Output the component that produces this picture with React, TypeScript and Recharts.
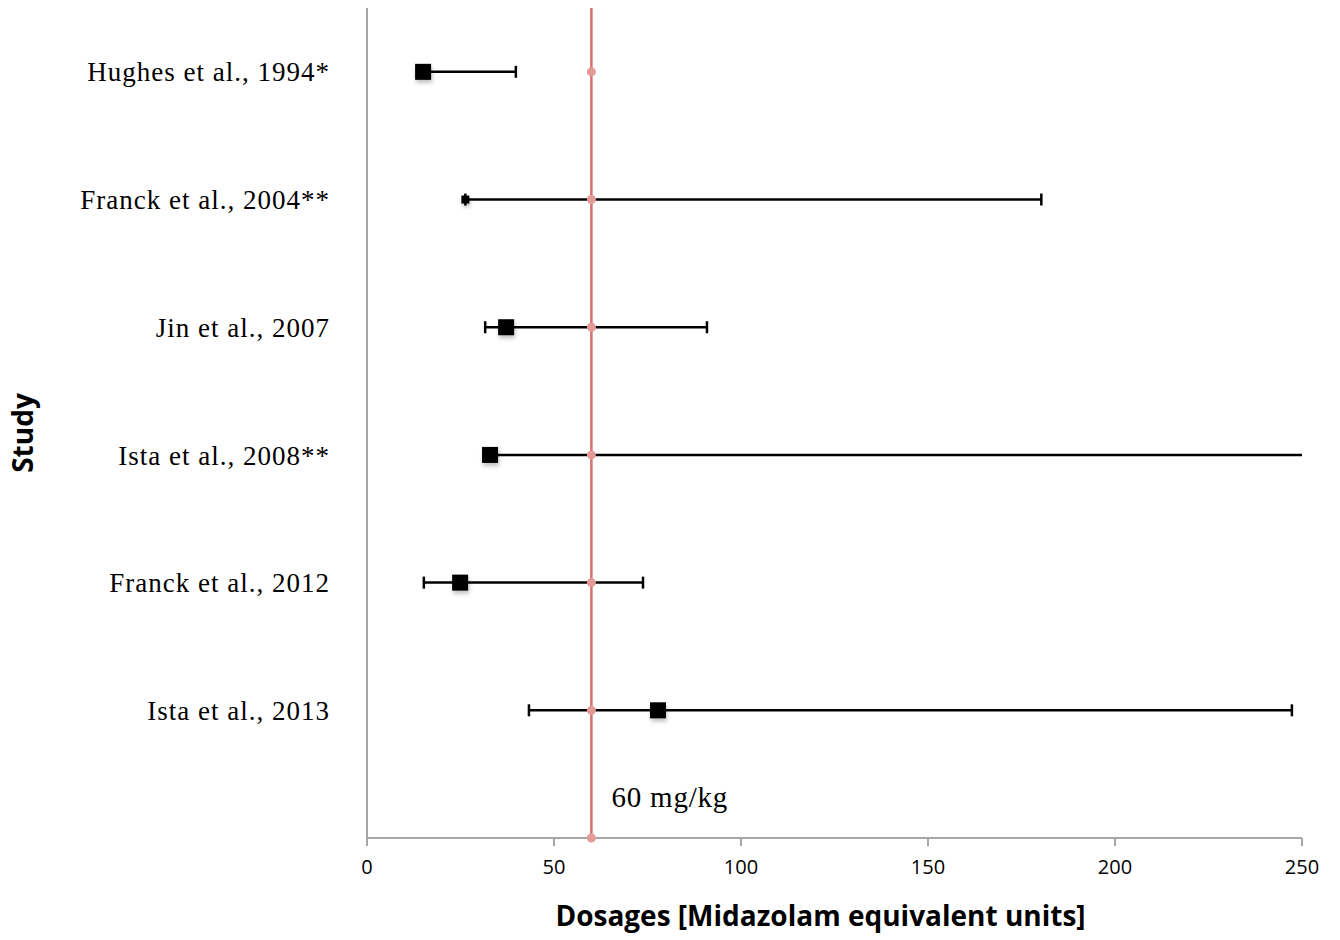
import React from "react";
import {
  ScatterChart,
  Scatter,
  XAxis,
  YAxis,
  ErrorBar,
  ReferenceLine,
} from "recharts";

// studies listed top to bottom
const studies = [
  "Hughes et al., 1994*",
  "Franck et al., 2004**",
  "Jin et al., 2007",
  "Ista et al., 2008**",
  "Franck et al., 2012",
  "Ista et al., 2013",
];
const medians = [15, 26.3, 37.2, 32.9, 24.9, 77.8];
const lows = [15, 26.3, 31.6, 32.9, 15.2, 43.3];
const highs = [39.8, 180.3, 90.9, 300, 73.8, 247.3];
const xTicks = [0, 50, 100, 150, 200, 250];
const xMax = 250;
const threshold = 60;

const rowOf = (i: number) => studies.length - i;

const rows = studies.map((name, i) => ({
  name,
  x: medians[i],
  y: rowOf(i),
  // bars running past the axis end are cut at the edge (no cap)
  err: [medians[i] - lows[i], Math.min(highs[i], xMax) - medians[i]],
  open: highs[i] > xMax,
}));
const closedRows = rows.filter((r) => !r.open);
const openRows = rows.filter((r) => r.open);

const refPoints = [0, ...studies.map((_, i) => rowOf(i))].map((y) => ({
  x: threshold,
  y,
}));

const AXIS_GREY = "#a6a6a6";
const RED = "#d8706e";

function SquareMarker(props: any) {
  const { cx, cy, payload } = props;
  const s = payload.name === "Franck et al., 2004**" ? 8 : 16;
  return (
    <g>
      <rect
        x={cx - s / 2 + 1}
        y={cy - s / 2 + 3}
        width={s}
        height={s}
        fill="#000"
        opacity={0.25}
        filter="url(#markerShadow)"
      />
      <rect x={cx - s / 2} y={cy - s / 2} width={s} height={s} fill="#000" />
    </g>
  );
}

function PinkDot(props: any) {
  const { cx, cy } = props;
  return <circle cx={cx} cy={cy} r={4.5} fill="#e39b9a" />;
}

function StudyLabel(props: any) {
  const { viewBox } = props;
  const x = viewBox.x + 22;
  const y = viewBox.y + viewBox.height / 2 + 10;
  return (
    <text
      x={x}
      y={y}
      transform={`rotate(-90, ${x}, ${y})`}
      textAnchor="middle"
      dominantBaseline="central"
      fontFamily="'Open Sans', sans-serif"
      fontWeight="bold"
      fontSize={28}
      fill="#000"
    >
      Study
    </text>
  );
}

function DosageLabel(props: any) {
  const { viewBox } = props;
  return (
    <text
      x={viewBox.x + viewBox.width / 2 - 14}
      y={viewBox.y + viewBox.height - 25}
      textAnchor="middle"
      dominantBaseline="central"
      fontFamily="'Open Sans', sans-serif"
      fontWeight="bold"
      fontSize={28}
      fill="#000"
    >
      Dosages [Midazolam equivalent units]
    </text>
  );
}

function ThresholdLabel(props: any) {
  const { viewBox } = props;
  return (
    <text
      x={viewBox.x + 20}
      y={viewBox.y + viewBox.height - 41}
      dominantBaseline="central"
      fontFamily="'Liberation Serif', 'Times New Roman', serif"
      fontSize={29}
      letterSpacing={0.8}
      fill="#000"
    >
      {threshold} mg/kg
    </text>
  );
}

export default function App() {
  return (
    <div style={{ position: "absolute", left: 0, top: 0, background: "#fff" }}>
      <ScatterChart
        width={1340}
        height={940}
        margin={{ top: 8, right: 38, left: 0, bottom: 0 }}
      >
        <defs>
          <filter id="markerShadow" x="-50%" y="-50%" width="200%" height="200%">
            <feGaussianBlur stdDeviation="2" />
          </filter>
        </defs>
        <XAxis
          type="number"
          dataKey="x"
          domain={[0, xMax]}
          ticks={xTicks}
          height={102}
          axisLine={{ stroke: AXIS_GREY, strokeWidth: 2 }}
          tickLine={{ stroke: AXIS_GREY, strokeWidth: 2 }}
          tickSize={8}
          tickMargin={14}
          tick={{
            fill: "#000",
            fontSize: 20,
            fontFamily: "'Open Sans', sans-serif",
          }}
          label={<DosageLabel />}
        />
        <YAxis
          type="number"
          dataKey="y"
          domain={[0, 6.5]}
          ticks={[1, 2, 3, 4, 5, 6]}
          width={367}
          axisLine={{ stroke: AXIS_GREY, strokeWidth: 2 }}
          tickLine={false}
          tickSize={0}
          tickMargin={37}
          tickFormatter={(v: number) => studies[studies.length - v] ?? ""}
          tick={{
            fill: "#000",
            fontSize: 27,
            fontFamily: "'Liberation Serif', 'Times New Roman', serif",
            letterSpacing: 1,
          }}
          label={<StudyLabel />}
        />
        <ReferenceLine
          x={threshold}
          stroke={RED}
          strokeWidth={2.5}
          label={<ThresholdLabel />}
        />
        <Scatter
          data={refPoints}
          shape={<PinkDot />}
          isAnimationActive={false}
        />
        <Scatter
          data={openRows}
          shape={<SquareMarker />}
          isAnimationActive={false}
        >
          <ErrorBar
            dataKey="err"
            direction="x"
            width={0}
            stroke="#000"
            strokeWidth={2.5}
          />
        </Scatter>
        <Scatter
          data={closedRows}
          shape={<SquareMarker />}
          isAnimationActive={false}
        >
          <ErrorBar
            dataKey="err"
            direction="x"
            width={6}
            stroke="#000"
            strokeWidth={2.5}
          />
        </Scatter>
      </ScatterChart>
    </div>
  );
}
